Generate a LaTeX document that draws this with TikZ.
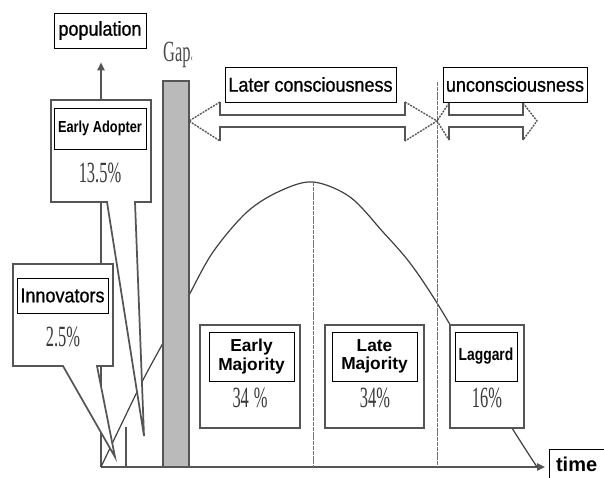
\documentclass[tikz,border=0pt]{standalone}
\usepackage{fontspec}
\setmainfont{Liberation Serif}
\newfontfamily\bigf[FakeStretch=0.9,FakeBold=0.8]{Liberation Sans}
\newfontfamily\smf[FakeStretch=0.8]{Liberation Sans}
\newfontfamily\wdf{Liberation Sans}
\newfontfamily\pctf[FakeStretch=0.56]{Liberation Serif}
\usetikzlibrary{arrows.meta}
\definecolor{frame}{HTML}{555555}
\definecolor{pctc}{HTML}{3A3A3A}
\begin{document}
\begin{tikzpicture}[x=0.75pt,y=-0.75pt,
  bigbox/.style={draw=black, line width=0.6pt, fill=white, inner sep=0pt, font=\bigf\fontsize{15}{15}\selectfont},
  smbox/.style={draw=black, line width=0.6pt, fill=white, inner sep=0pt, align=center, font=\smf\bfseries\fontsize{12}{12}\selectfont},
  wdbox/.style={draw=black, line width=0.6pt, fill=white, inner sep=0pt, align=center, font=\wdf\bfseries\fontsize{13}{14}\selectfont},
  pct/.style={inner sep=0pt, text=pctc, font=\pctf\fontsize{22}{22}\selectfont},
  callout/.style={draw=frame, line width=1.3pt, fill=white, line join=miter},
  outerbox/.style={draw=frame, line width=1.3pt, fill=white, inner sep=0pt},
  axisline/.style={draw=frame, line width=1.1pt},
  curveline/.style={draw=black!75, line width=0.9pt},
  vline/.style={draw=black!55, line width=0.7pt, dash pattern=on 3pt off 0.6pt},
  shaft/.style={draw=frame, line width=1.2pt},
  headline/.style={draw=frame, line width=1pt, dash pattern=on 1.5pt off 0.8pt},
  tipstyle/.style={-{Triangle[length=6pt,width=5.5pt]}}
]
\useasboundingbox (0,0) rectangle (604,478);

% axes
\coordinate (O) at (101,467);
\node[bigbox, minimum width=69pt, minimum height=26.25pt] (pop) at (100,30.5) {population};
\node[bigbox, font=\wdf\bfseries\fontsize{15}{15}\selectfont, minimum width=42.75pt, minimum height=23.25pt, anchor=west] (time) at (549,464.5) {\hspace*{5pt}time\hspace*{10pt}};
\draw[axisline, tipstyle, shorten >=10.5pt] (O) -- (O |- pop.south);
\draw[axisline, tipstyle, shorten >=3pt] (O) -- (O -| time.west);

% small tick
\coordinate (tickb) at (126,467);
\coordinate (tickt) at (126,427);
\draw[axisline, line width=0.8pt] (tickb) -- (tickt);

% bell curve
\draw[curveline] plot[smooth, tension=0.55] coordinates {(101,467) (122,423) (143,380) (163,343) (188,297) (213,252) (247,212) (280,191) (313,182) (350,197) (383,232) (410,263) (437,303) (475,367) (512,428) (537,467)};

% vertical lines
\coordinate (peak) at (313,182);
\coordinate (vtop) at (437,82);
\draw[vline] (peak) -- (peak |- O);
\draw[vline] (vtop) -- (vtop |- O);

% gap bar
\node[draw=frame, line width=0.9pt, fill=black!27, minimum width=19.5pt, minimum height=289.5pt, inner sep=0pt] (gap) at (176,274) {};
\node[inner sep=0pt, font=\pctf\fontsize{22}{22}\selectfont, text=black!70] (gaplab) at (178,55) {Gap{\fontsize{9}{9}\selectfont ‹}};

% callouts
\draw[callout] (51,100) -- (151,100) -- (151,202) -- (135,202) -- (144,436) -- (107,202) -- (51,202) -- cycle;
\draw[callout] (13,264) -- (113,264) -- (113,366) -- (97,366) -- (115,457) -- (63,366) -- (13,366) -- cycle;
\node[smbox, minimum width=69pt, minimum height=30.75pt] (ea) at (100,128.5) {Early Adopter};
\node[pct] (p135) at (100,173) {13.5\%};
\node[bigbox, minimum width=68.25pt, minimum height=26.25pt] (inn) at (62.5,295.5) {Innovators};
\node[pct] (p25) at (63,337) {2.5\%};

% bottom boxes
\node[outerbox, minimum width=75pt, minimum height=77.25pt] (emo) at (250,376.5) {};
\node[outerbox, minimum width=74.25pt, minimum height=77.25pt] (lmo) at (374.5,376.5) {};
\node[outerbox, minimum width=55.5pt, minimum height=77.25pt] (lgo) at (487,376.5) {};
\node[wdbox, minimum width=63.75pt, minimum height=36.75pt] (em) at (251.5,356.5) {Early\\Majority};
\node[wdbox, minimum width=63.75pt, minimum height=36.75pt] (lm) at (374.5,356.5) {Late\\Majority};
\node[smbox, font=\smf\bfseries\fontsize{13}{13}\selectfont, minimum width=46.5pt, minimum height=36.75pt] (lg) at (486,356.5) {Laggard};
\node[pct] (p34a) at (250,398) {34\,\%};
\node[pct] (p34b) at (375,398) {34\%};
\node[pct] (p16) at (487,398) {16\%};

% double arrows
\coordinate (la) at (189,121);
\coordinate (ra) at (437,121);
\coordinate (rb) at (537,121);
\draw[shaft] (220,102) -- (220,115) -- (405,115) -- (405,102);
\draw[shaft] (220,141) -- (220,127) -- (405,127) -- (405,141);
\draw[headline] (220,102) -- (la) -- (220,141);
\draw[headline] (405,102) -- (ra) -- (405,141);
\draw[shaft] (449,103) -- (449,115) -- (523,115) -- (523,103);
\draw[shaft] (449,140) -- (449,127) -- (523,127) -- (523,140);
\draw[headline] (449,103) -- (ra) -- (449,140);
\draw[headline] (523,103) -- (rb) -- (523,140);

\node[bigbox, minimum width=128.25pt, minimum height=26.25pt] (later) at (310.5,84.5) {Later consciousness};
\node[bigbox, minimum width=108pt, minimum height=26.25pt] (uncon) at (515,84.5) {unconsciousness};
\end{tikzpicture}
\end{document}
